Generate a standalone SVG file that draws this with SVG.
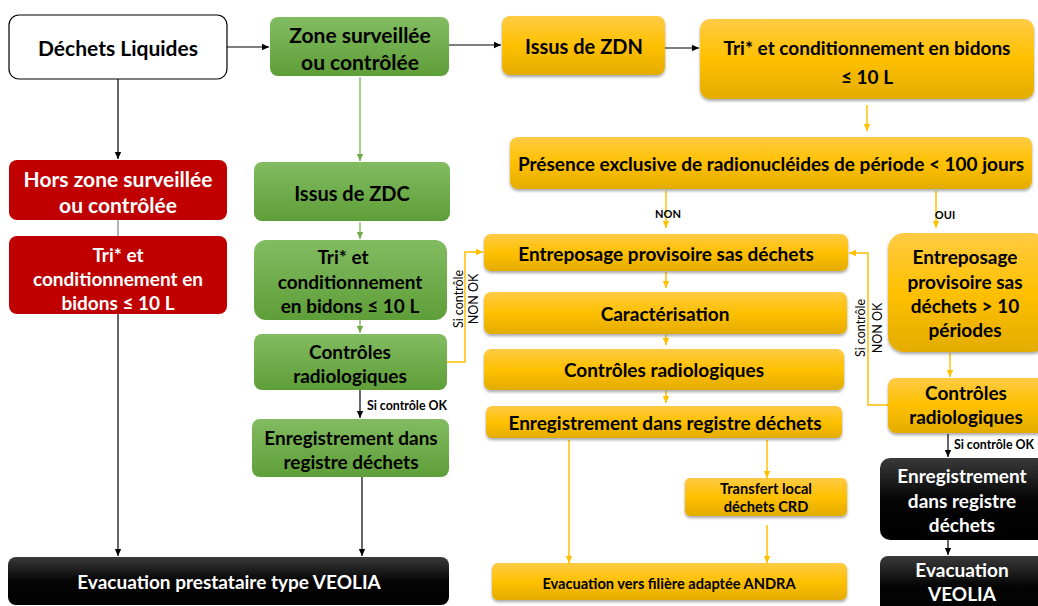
<svg xmlns="http://www.w3.org/2000/svg" width="1038" height="606" viewBox="0 0 1038 606">
<defs>
<linearGradient id="gG" x1="0" y1="0" x2="0" y2="1"><stop offset="0" stop-color="#82BC62"/><stop offset="1" stop-color="#5E9E38"/></linearGradient>
<linearGradient id="gY" x1="0" y1="0" x2="0" y2="1"><stop offset="0" stop-color="#FFCB45"/><stop offset="0.5" stop-color="#FFC000"/><stop offset="1" stop-color="#E3AC00"/></linearGradient>
<linearGradient id="gK" x1="0" y1="0" x2="0" y2="1"><stop offset="0" stop-color="#3A3A3A"/><stop offset="0.5" stop-color="#050505"/><stop offset="1" stop-color="#000"/></linearGradient>
<filter id="sh" x="-10%" y="-20%" width="120%" height="150%"><feDropShadow dx="0" dy="2" stdDeviation="1.5" flood-color="#000" flood-opacity="0.35"/></filter>
<marker id="aK" markerWidth="8" markerHeight="8" refX="7" refY="4" orient="auto" markerUnits="userSpaceOnUse"><path d="M0,0.8 L7,4 L0,7.2 z" fill="#000"/></marker>
<marker id="aG" markerWidth="8" markerHeight="8" refX="7" refY="4" orient="auto" markerUnits="userSpaceOnUse"><path d="M0,0.8 L7,4 L0,7.2 z" fill="#70AD47"/></marker>
<marker id="aY" markerWidth="8" markerHeight="8" refX="7" refY="4" orient="auto" markerUnits="userSpaceOnUse"><path d="M0,0.8 L7,4 L0,7.2 z" fill="#FFC000"/></marker>
</defs>
<style>
text{font-family:Lato,"Open Sans","Liberation Sans",sans-serif;font-weight:bold;text-anchor:middle;dominant-baseline:central;fill:#000}
.w{fill:#fff}
.g{fill:url(#gG)}
.y{fill:url(#gY);filter:url(#sh)}
.k{fill:url(#gK)}
.r{fill:#C00000}
.t21{font-size:21px}.t20{font-size:20px}.t19{font-size:19px}.t14{font-size:14.6px}
.lab{font-size:12.4px}
.rot{font-size:12.5px;font-weight:normal}
.cK{stroke:#000;stroke-width:1.2;fill:none;marker-end:url(#aK)}
.cG{stroke:#70AD47;stroke-width:1.2;fill:none;marker-end:url(#aG)}
.cY{stroke:#FFC000;stroke-width:1.5;fill:none;marker-end:url(#aY)}
.cGr{stroke:#808080;stroke-width:1.2;fill:none}
</style>

<g id="connectors">
<path class="cK" d="M227,47 H269"/>
<path class="cK" d="M449,45 H501"/>
<path class="cK" d="M665,48 H699"/>
<path class="cK" d="M118,79 V159"/>
<path class="cG" d="M360,77 V161"/>
<path class="cG" d="M360,222 V239"/>
<path class="cG" d="M360,320 V333"/>
<path class="cK" d="M360,390 V418"/>
<path class="cK" d="M362,477 V556"/>
<path class="cGr" d="M118,220 V236"/>
<path class="cK" d="M118,314 V556"/>
<path class="cY" d="M447,362 H465 V252 H483"/>
<path class="cY" d="M867,105 V131"/>
<path class="cY" d="M666,191 V228"/>
<path class="cY" d="M936,191 V228"/>
<path class="cY" d="M666,272 V288"/>
<path class="cY" d="M666,335 V345"/>
<path class="cY" d="M666,391 V403"/>
<path class="cY" d="M569,440 V563"/>
<path class="cY" d="M767,440 V478"/>
<path class="cY" d="M767,525 V563"/>
<path class="cY" d="M950,353 V377"/>
<path class="cY" d="M888,405 H868 V253 H849"/>
<path class="cK" d="M948,434 V457"/>
<path class="cK" d="M948,540 V555"/>
<text class="lab" x="407" y="405">Si contrôle OK</text>
<text class="lab" x="994" y="444">Si contrôle OK</text>
<text style="font-size:11px" x="668" y="213">NON</text>
<text style="font-size:11px" x="945" y="214">OUI</text>
<text class="rot" transform="translate(458,299) rotate(-90)">Si contrôle</text>
<text class="rot" transform="translate(473,299) rotate(-90)">NON OK</text>
<text class="rot" transform="translate(860,328) rotate(-90)">Si contrôle</text>
<text class="rot" transform="translate(877,328) rotate(-90)">NON OK</text>
</g>

<g id="n-dechets"><rect x="9" y="15" width="218" height="64" rx="10" fill="#fff" stroke="#000" stroke-width="1.2"/><text class="t21" x="118" y="47">Déchets Liquides</text></g>
<g id="n-zone"><rect class="g" x="270" y="17" width="179" height="59" rx="8"/><text class="t21" x="360" y="34">Zone surveillée</text><text class="t21" x="360" y="61">ou contrôlée</text></g>
<g id="n-zdn"><rect class="y" x="502" y="16" width="163" height="59" rx="8"/><text class="t20" x="584" y="46">Issus de ZDN</text></g>
<g id="n-tri-zdn"><rect class="y" x="700" y="19" width="334" height="80" rx="10"/><text class="t19" x="867" y="47">Tri* et conditionnement en bidons</text><text class="t19" x="867" y="76">≤ 10 L</text></g>
<g id="n-presence"><rect class="y" x="510" y="137" width="522" height="52" rx="8"/><text class="t19" x="771" y="163">Présence exclusive de radionucléides de période &lt; 100 jours</text></g>
<g id="n-hors"><rect class="r" x="9" y="160" width="218" height="60" rx="8"/><text class="t21 w" x="118" y="178">Hors zone surveillée</text><text class="t21 w" x="118" y="204">ou contrôlée</text></g>
<g id="n-zdc"><rect class="g" x="254" y="162" width="196" height="59" rx="8"/><text class="t20" x="352" y="193">Issus de ZDC</text></g>
<g id="n-tri-red"><rect class="r" x="9" y="236" width="218" height="78" rx="8"/><text class="t19 w" x="118" y="254">Tri* et</text><text class="t19 w" x="118" y="278">conditionnement en</text><text class="t19 w" x="118" y="302">bidons ≤ 10 L</text></g>
<g id="n-tri-green"><rect class="g" x="254" y="240" width="193" height="80" rx="12"/><text class="t19" x="343" y="256">Tri* et</text><text class="t19" x="350" y="281">conditionnement</text><text class="t19" x="350" y="305">en bidons ≤ 10 L</text></g>
<g id="n-ctrl-green"><rect class="g" x="254" y="334" width="193" height="56" rx="8"/><text class="t19" x="350" y="351">Contrôles</text><text class="t19" x="350" y="375">radiologiques</text></g>
<g id="n-enr-green"><rect class="g" x="252" y="419" width="197" height="58" rx="8"/><text class="t19" x="351" y="437">Enregistrement dans</text><text class="t19" x="351" y="461">registre déchets</text></g>
<g id="n-evac-veolia"><rect class="k" x="8" y="557" width="441" height="48" rx="8"/><text class="t19 w" x="229" y="581">Evacuation prestataire type VEOLIA</text></g>
<g id="n-entreposage"><rect class="y" x="484" y="234" width="364" height="37" rx="7"/><text class="t19" x="666" y="253">Entreposage provisoire sas déchets</text></g>
<g id="n-caract"><rect class="y" x="484" y="292" width="363" height="42" rx="7"/><text class="t19" x="665" y="313">Caractérisation</text></g>
<g id="n-ctrl-y"><rect class="y" x="484" y="349" width="360" height="41" rx="7"/><text class="t19" x="664" y="369">Contrôles radiologiques</text></g>
<g id="n-enr-y"><rect class="y" x="486" y="406" width="356" height="32" rx="6"/><text class="t19" x="665" y="422">Enregistrement dans registre déchets</text></g>
<g id="n-transfert"><rect class="y" x="685" y="478" width="162" height="38" rx="5"/><text class="t14" x="766" y="488">Transfert local</text><text class="t14" x="766" y="506">déchets CRD</text></g>
<g id="n-andra"><rect class="y" x="492" y="563" width="355" height="37" rx="6"/><text class="t14" x="669" y="583">Evacuation vers filière adaptée ANDRA</text></g>
<g id="n-entreposage10"><rect class="y" x="888" y="233" width="160" height="119" rx="16"/><text class="t19" x="965" y="256">Entreposage</text><text class="t19" x="965" y="281">provisoire sas</text><text class="t19" x="965" y="305">déchets &gt; 10</text><text class="t19" x="965" y="329">périodes</text></g>
<g id="n-ctrl-right"><rect class="y" x="888" y="378" width="160" height="55" rx="8"/><text class="t19" x="966" y="392">Contrôles</text><text class="t19" x="966" y="416">radiologiques</text></g>
<g id="n-enr-black"><rect class="k" x="880" y="458" width="168" height="82" rx="10"/><text class="t19 w" x="962" y="475">Enregistrement</text><text class="t19 w" x="962" y="500">dans registre</text><text class="t19 w" x="962" y="524">déchets</text></g>
<g id="n-evac-right"><rect class="k" x="880" y="556" width="168" height="60" rx="8"/><text class="t19 w" x="962" y="569">Evacuation</text><text class="t19 w" x="962" y="593">VEOLIA</text></g>
</svg>
